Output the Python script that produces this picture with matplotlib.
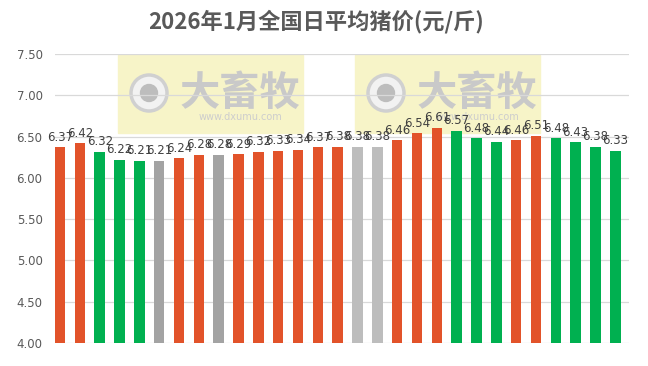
import matplotlib
matplotlib.use("Agg")
import matplotlib.pyplot as plt
from matplotlib.patches import Rectangle, Circle

plt.rcParams['font.family'] = ['Noto Sans CJK SC', 'DejaVu Sans']

prices = [6.37, 6.42, 6.32, 6.22, 6.21, 6.21, 6.24, 6.28, 6.28, 6.29,
          6.32, 6.33, 6.34, 6.37, 6.38, 6.38, 6.38, 6.46, 6.54, 6.61,
          6.57, 6.48, 6.44, 6.46, 6.51, 6.48, 6.43, 6.38, 6.33]
# o = up, g = down, d = flat (dark grey), l = flat (light grey)
trend = ["o", "o", "g", "g", "g", "d", "o", "o", "d", "o",
         "o", "o", "o", "o", "o", "l", "l", "o", "o", "o",
         "g", "g", "g", "o", "o", "g", "g", "g", "g"]
palette = {"o": "#E2532A", "g": "#00B050", "d": "#A3A3A3", "l": "#BDBDBD"}
yticks = [4.0, 4.5, 5.0, 5.5, 6.0, 6.5, 7.0, 7.5]
title = "2026年1月全国日平均猪价(元/斤)"

fig = plt.figure(figsize=(6.48, 3.66), dpi=100)
ax = fig.add_axes([0.085, 0.063, 0.886, 0.789])
ax.set_zorder(2)

# watermarks (behind the chart)
W, H = 648.0, 366.0
for x0 in [118, 355]:
    fig.patches.append(Rectangle((x0 / W, 1 - 133 / H), 185 / W, 78 / H,
                                 transform=fig.transFigure, color="#F7F4C8",
                                 zorder=0))
    cx, cy = (x0 + 31) / W, 1 - 93 / H
    fig.patches.append(Circle((cx * W, cy * H), 18, transform=None,
                              facecolor="#F2F2F2", edgecolor="#D0D0D0",
                              lw=2.5, zorder=0.5))
    fig.patches.append(Circle((cx * W, cy * H), 8.5, transform=None,
                              color="#BDBDBD", zorder=0.6))
    fig.text((x0 + 122) / W, 1 - 93 / H, "大畜牧", fontsize=29,
             fontweight="bold", color="#C9C9C9", ha="center", va="center",
             zorder=0.5)
    fig.text((x0 + 122) / W, 1 - 117 / H, "www.dxumu.com", fontsize=7,
             color="#CDCDCD", ha="center", va="center", zorder=0.5,
             family="DejaVu Sans")

ax.patch.set_alpha(0)
x = range(len(prices))
colors = [palette[t] for t in trend]
ax.bar(x, [p - 4.0 for p in prices], bottom=4.0, width=0.53, color=colors,
       zorder=3)
for i, p in enumerate(prices):
    ax.annotate(f"{p:.2f}", (i, p), xytext=(0, 2.5), textcoords="offset points",
                ha="center", va="bottom", fontsize=8.5, color="#404040",
                family="DejaVu Sans", zorder=4)

ax.set_xlim(-0.25, len(prices) - 1 + 0.7)
ax.set_ylim(4.0, 7.5)
ax.set_yticks(yticks)
ax.set_yticklabels([f"{t:.2f}" for t in yticks], fontsize=8.5,
                   color="#595959", family="DejaVu Sans")
ax.set_xticks([])
ax.tick_params(axis="y", length=0, pad=9)
ax.grid(axis="y", color="#D9D9D9", lw=0.9, zorder=0)
for s in ax.spines.values():
    s.set_visible(False)

fig.text(0.488, 1 - 22 / H, title, fontsize=16, fontweight="bold",
         color="#595959", ha="center", va="center")

fig.savefig("out.png", dpi=100)
